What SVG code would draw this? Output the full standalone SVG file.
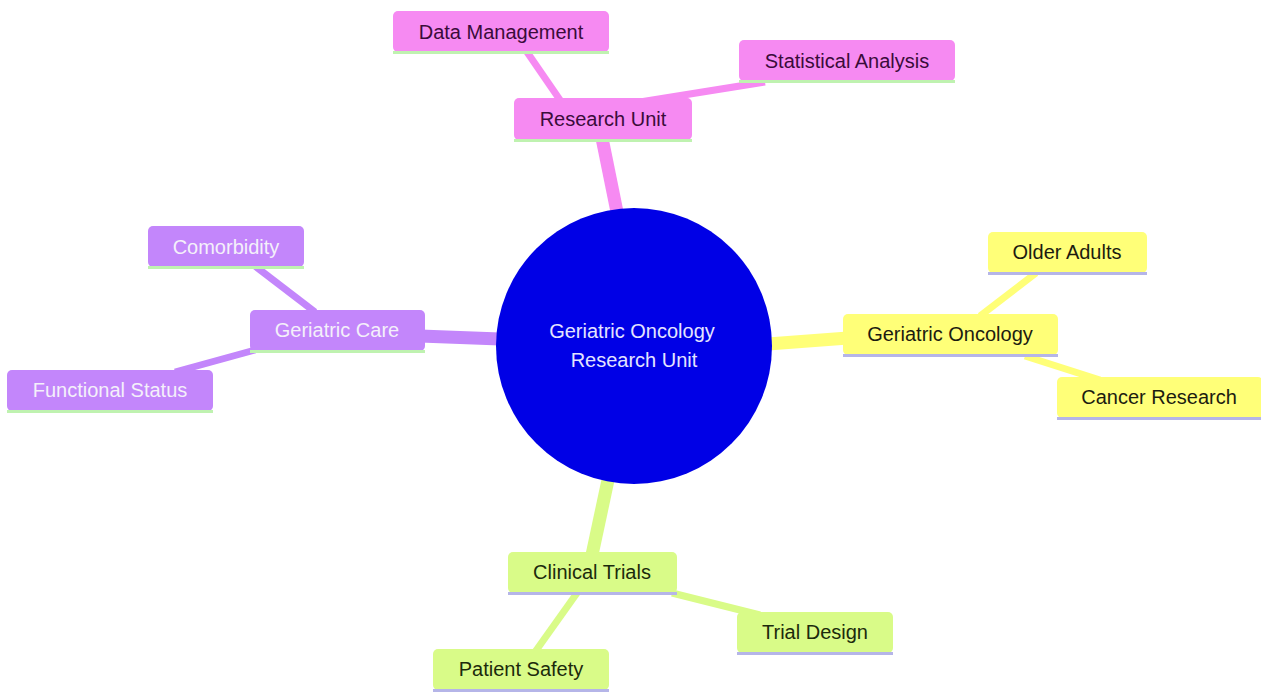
<svg xmlns="http://www.w3.org/2000/svg" width="1261" height="693" viewBox="0 0 1261 693">
<style>
text{font-family:"Liberation Sans",Arial,sans-serif;font-size:20px;text-anchor:middle}
.e1{stroke-width:13;stroke-linecap:butt;fill:none}
.e2{stroke-width:7;stroke-linecap:butt;fill:none}
.pk{fill:#f68af2}.pkS{stroke:#f68af2}.pkT{fill:#3a0c3a}
.pu{fill:#c386fb}.puS{stroke:#c386fb}.puT{fill:#f4f0fa}
.ye{fill:#ffff78}.yeS{stroke:#ffff78}.yeT{fill:#1c1c10}
.gr{fill:#d9fb88}.grS{stroke:#d9fb88}.grT{fill:#1c2a0c}
.lg{fill:#bff2b0}.lv{fill:#b5b5e8}
</style>
<rect width="1261" height="693" fill="#ffffff"/>
<g id="connectors">
<line class="e1 pkS" x1="617" y1="212" x2="602" y2="138"/>
<line class="e2 pkS" x1="527" y1="52" x2="560" y2="100"/>
<line class="e2 pkS" x1="765" y1="82" x2="640" y2="102"/>
<line class="e1 puS" x1="500" y1="339" x2="420" y2="336"/>
<line class="e2 puS" x1="255" y1="266" x2="315" y2="312"/>
<line class="e2 puS" x1="255" y1="350" x2="175" y2="372"/>
<line class="e1 yeS" x1="768" y1="344" x2="848" y2="338"/>
<line class="e2 yeS" x1="1036" y1="273" x2="980" y2="316"/>
<line class="e2 yeS" x1="1025" y1="356" x2="1100" y2="380"/>
<line class="e1 grS" x1="608" y1="480" x2="592" y2="555"/>
<line class="e2 grS" x1="577" y1="593" x2="535" y2="652"/>
<line class="e2 grS" x1="672" y1="593" x2="760" y2="615"/>
</g>
<g id="root">
<circle cx="634" cy="346" r="138" fill="#0000e6"/>
<text x="632" y="338" fill="#e4e4ff">Geriatric Oncology</text>
<text x="634" y="367" fill="#e4e4ff">Research Unit</text>
</g>
<g id="research-unit">
<rect class="pk" x="514" y="98" width="178" height="42" rx="5"/>
<rect class="lg" x="514" y="139" width="178" height="3"/>
<text class="pkT" x="603" y="126">Research Unit</text>
</g>
<g id="data-management">
<rect class="pk" x="393" y="11" width="216" height="41" rx="5"/>
<rect class="lg" x="393" y="51" width="216" height="3"/>
<text class="pkT" x="501" y="39">Data Management</text>
</g>
<g id="statistical-analysis">
<rect class="pk" x="739" y="40" width="216" height="41" rx="5"/>
<rect class="lg" x="739" y="80" width="216" height="3"/>
<text class="pkT" x="847" y="68">Statistical Analysis</text>
</g>
<g id="geriatric-care">
<rect class="pu" x="250" y="310" width="175" height="41" rx="5"/>
<rect class="lg" x="250" y="350" width="175" height="3"/>
<text class="puT" x="337" y="337">Geriatric Care</text>
</g>
<g id="comorbidity">
<rect class="pu" x="148" y="226" width="156" height="41" rx="5"/>
<rect class="lg" x="148" y="266" width="156" height="3"/>
<text class="puT" x="226" y="254">Comorbidity</text>
</g>
<g id="functional-status">
<rect class="pu" x="7" y="370" width="206" height="41" rx="5"/>
<rect class="lg" x="7" y="410" width="206" height="3"/>
<text class="puT" x="110" y="397">Functional Status</text>
</g>
<g id="geriatric-oncology">
<rect class="ye" x="843" y="314" width="215" height="41" rx="5"/>
<rect class="lv" x="843" y="354" width="215" height="3"/>
<text class="yeT" x="950" y="341">Geriatric Oncology</text>
</g>
<g id="older-adults">
<rect class="ye" x="988" y="232" width="159" height="41" rx="5"/>
<rect class="lv" x="988" y="272" width="159" height="3"/>
<text class="yeT" x="1067" y="259">Older Adults</text>
</g>
<g id="cancer-research">
<rect class="ye" x="1057" y="377" width="206" height="41" rx="5"/>
<rect class="lv" x="1057" y="417" width="206" height="3"/>
<text class="yeT" x="1159" y="404">Cancer Research</text>
</g>
<g id="clinical-trials">
<rect class="gr" x="508" y="552" width="169" height="41" rx="5"/>
<rect class="lv" x="508" y="592" width="169" height="3"/>
<text class="grT" x="592" y="579">Clinical Trials</text>
</g>
<g id="trial-design">
<rect class="gr" x="737" y="612" width="156" height="41" rx="5"/>
<rect class="lv" x="737" y="652" width="156" height="3"/>
<text class="grT" x="815" y="639">Trial Design</text>
</g>
<g id="patient-safety">
<rect class="gr" x="433" y="649" width="176" height="41" rx="5"/>
<rect class="lv" x="433" y="689" width="176" height="3"/>
<text class="grT" x="521" y="676">Patient Safety</text>
</g>
</svg>
